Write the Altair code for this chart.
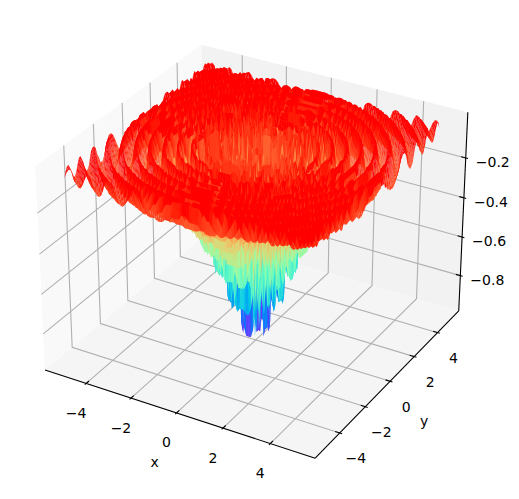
import math
import altair as alt
import pandas as pd

# --- values ----------------------------------------------------------------
grid_values = [-5.12,-5.02,-4.92,-4.82,-4.72,-4.62,-4.52,-4.42,-4.32,-4.22,-4.12,-4.02,-3.92,-3.82,-3.72,-3.62,-3.52,-3.42,-3.32,-3.22,-3.12,-3.02,-2.92,-2.82,-2.72,-2.62,-2.52,-2.42,-2.32,-2.22,-2.12,-2.02,-1.92,-1.82,-1.72,-1.62,-1.52,-1.42,-1.32,-1.22,-1.12,-1.02,-.92,-.82,-.72,-.62,-.52,-.42,-.32,-.22,-.12,-.02,.08,.18,.28,.38,.48,.58,.68,.78,.88,.98,1.08,1.18,1.28,1.38,1.48,1.58,1.68,1.78,1.88,1.98,2.08,2.18,2.28,2.38,2.48,2.58,2.68,2.78,2.88,2.98,3.08,3.18,3.28,3.38,3.48,3.58,3.68,3.78,3.88,3.98,4.08,4.18,4.28,4.38,4.48,4.58,4.68,4.78,4.88,4.98,5.08]
profile_step = 0.032725   # radial spacing of the table below
radial_profile = [
-1.0,-.962,-.853,-.69,-.498,-.307,-.145,-.038,0,-.037,-.143,-.299,-.481,-.661,-.811,-.907,
-.936,-.893,-.785,-.63,-.452,-.276,-.13,-.033,0,-.033,-.124,-.258,-.413,-.564,-.688,-.765,
-.785,-.745,-.652,-.521,-.371,-.226,-.106,-.027,0,-.026,-.099,-.206,-.329,-.448,-.545,-.604,
-.618,-.586,-.511,-.408,-.29,-.176,-.082,-.021,0,-.02,-.077,-.16,-.255,-.346,-.421,-.466,
-.477,-.451,-.394,-.314,-.223,-.136,-.063,-.016,0,-.016,-.059,-.123,-.196,-.267,-.325,-.36,
-.369,-.349,-.305,-.243,-.173,-.105,-.049,-.013,0,-.012,-.046,-.096,-.153,-.209,-.254,-.282,
-.288,-.273,-.239,-.191,-.136,-.083,-.039,-.01,0,-.01,-.037,-.076,-.121,-.165,-.201,-.224,
-.229,-.218,-.191,-.152,-.109,-.066,-.031,-.008,0,-.008,-.029,-.061,-.098,-.133,-.163,-.181,
-.186,-.176,-.155,-.124,-.088,-.054,-.025,-.006,0,-.006,-.024,-.05,-.08,-.109,-.133,-.149,
-.153,-.145,-.127,-.102,-.073,-.044,-.021,-.005,0,-.005,-.02,-.042,-.067,-.091,-.111,-.124,
-.127,-.121,-.106,-.085,-.061,-.037,-.017,-.004,0,-.004,-.017,-.035,-.056,-.077,-.094,-.105,
-.108,-.102,-.09,-.072,-.052,-.032,-.015,-.004,0,-.004,-.014,-.03,-.048,-.065,-.08,-.089,
-.092,-.088,-.077,-.062,-.044,-.027,-.013,-.003,0,-.003,-.012,-.026,-.041,-.056,-.069,-.077,
-.079,-.076,-.067,-.054,-.038,-.023,-.011,-.003,0,-.003,-.011,-.022,-.036,-.049,-.06,-.067,
-.069]
x_ticks = [-4, -2, 0, 2, 4]
y_ticks = [-4, -2, 0, 2, 4]
z_ticks = [-0.8, -0.6, -0.4, -0.2]
z_tick_labels = ["\u22120.8", "\u22120.6", "\u22120.4", "\u22120.2"]
xy_tick_labels = ["\u22124", "\u22122", "0", "2", "4"]
rainbow_stops = [0, .1, .2, .3, .4, .5, .6, .7, .8, .9, 1]
rainbow_colors = ["#8000ff","#4d4ffc","#1a96f2","#1acee3","#4df2ce","#80ffb4","#b3f296","#e6ce74","#ff964f","#ff4f28","#ff0000"]
pane_colors = {"x": "#f9f9f9", "y": "#f2f2f2", "z": "#f5f5f5"}
COLOR_LOW, COLOR_HIGH = -0.84, -0.04

XLIM = (-5.632, 5.632)
YLIM = (-5.632, 5.632)
ZLIM = (-0.966, 0.004)

# --- 3D camera (elevation 30, azimuth -60) ---------------------------------
BOX = (1.1428, 1.1428, 0.8571)
U = (0.8660, 0.5, 0.0)
V = (-0.25, 0.4330, 0.8660)
W = (0.4330, -0.75, 0.5)
DIST = 10.0
SCALE, CX, CY = 2600.0, 255.7 - 8, 241.6 - 8


def project(x, y, z):
    rx = ((x - XLIM[0]) / (XLIM[1] - XLIM[0]) - 0.5) * BOX[0]
    ry = ((y - YLIM[0]) / (YLIM[1] - YLIM[0]) - 0.5) * BOX[1]
    rz = ((z - ZLIM[0]) / (ZLIM[1] - ZLIM[0]) - 0.5) * BOX[2]
    xv = U[0] * rx + U[1] * ry
    yv = V[0] * rx + V[1] * ry + V[2] * rz
    depth = W[0] * rx + W[1] * ry + W[2] * rz
    d = DIST - depth
    return round(CX + SCALE * xv / d, 2), round(CY - SCALE * yv / d, 2), d


def pt(x, y, z):
    p = project(x, y, z)
    return [p[0], p[1]]


def line(points):
    return {"type": "Feature", "geometry": {"type": "LineString", "coordinates": [pt(*q) for q in points]}, "properties": {}}


def poly(points, **extra):
    c = [pt(*q) for q in points]
    f = {"type": "Feature", "geometry": {"type": "Polygon", "coordinates": [c + [c[0]]]}, "properties": {}}
    f.update(extra)
    return f


dx = (XLIM[1] - XLIM[0]) / 48
dz = (ZLIM[1] - ZLIM[0]) / 48
x0, x1 = XLIM[0] - dx, XLIM[1] + dx
y0, y1 = YLIM[0] - dx, YLIM[1] + dx
z0, z1 = ZLIM[0] - dz, ZLIM[1] + dz
tick_d = (x1 - x0) / 12

# --- surface ---------------------------------------------------------------
n = len(grid_values)
Z = []
for yv in grid_values:
    row = []
    for xv in grid_values:
        i = int(round(math.hypot(xv, yv) / profile_step))
        row.append(radial_profile[min(i, len(radial_profile) - 1)])
    Z.append(row)

quads = []
for j in range(n - 1):
    for i in range(n - 1):
        corners = [
            (grid_values[i], grid_values[j], Z[j][i]),
            (grid_values[i + 1], grid_values[j], Z[j][i + 1]),
            (grid_values[i + 1], grid_values[j + 1], Z[j + 1][i + 1]),
            (grid_values[i], grid_values[j + 1], Z[j + 1][i]),
        ]
        mean_z = sum(c[2] for c in corners) / 4
        depth = sum(project(*c)[2] for c in corners) / 4
        quads.append((depth, round(mean_z, 4), corners))
quads.sort(key=lambda q: -q[0])
surface = [poly(q[2], z=q[1]) for q in quads]
domain = [COLOR_LOW + (COLOR_HIGH - COLOR_LOW) * t for t in rainbow_stops]

# --- panes, grid, axes -----------------------------------------------------
panes = [
    poly([(x0, y0, z0), (x0, y1, z0), (x0, y1, z1), (x0, y0, z1)], pane=pane_colors["x"]),
    poly([(x0, y1, z0), (x1, y1, z0), (x1, y1, z1), (x0, y1, z1)], pane=pane_colors["y"]),
    poly([(x0, y0, z0), (x1, y0, z0), (x1, y1, z0), (x0, y1, z0)], pane=pane_colors["z"]),
]
grid = []
for t in x_ticks:
    grid.append(line([(t, y0, z0), (t, y1, z0), (t, y1, z1)]))
for t in y_ticks:
    grid.append(line([(x1, t, z0), (x0, t, z0), (x0, t, z1)]))
for t in z_ticks:
    grid.append(line([(x1, y1, t), (x0, y1, t), (x0, y0, t)]))

axes = [
    line([(x0, y0, z0), (x1, y0, z0)]),
    line([(x1, y0, z0), (x1, y1, z0)]),
    line([(x1, y1, z0), (x1, y1, z1)]),
]
for t in x_ticks:
    axes.append(line([(t, y0 - 0.1 * tick_d, z0), (t, y0 + 0.2 * tick_d, z0)]))
for t in y_ticks:
    axes.append(line([(x1 + 0.1 * tick_d, t, z0), (x1 - 0.2 * tick_d, t, z0)]))
for t in z_ticks:
    axes.append(line([(x1 + 0.1 * tick_d, y1, t), (x1 - 0.2 * tick_d, y1, t)]))

# --- text ------------------------------------------------------------------
rows = []
for t, s in zip(x_ticks, xy_tick_labels):
    p = project(t, y0, z0)
    rows.append({"px": p[0] - 10, "py": p[1] + 30.5, "label": s})
for t, s in zip(y_ticks, xy_tick_labels):
    p = project(x1, t, z0)
    rows.append({"px": p[0] + 16, "py": p[1] + 26.5, "label": s})
for t, s in zip(z_ticks, z_tick_labels):
    p = project(x1, y1, t)
    rows.append({"px": p[0] + 27, "py": p[1] + 5, "label": s})
p = project(0, y0, z0)
rows.append({"px": p[0] - 22, "py": p[1] + 50, "label": "x"})
p = project(x1, 0, z0)
rows.append({"px": p[0] + 34, "py": p[1] + 41, "label": "y"})
texts = pd.DataFrame(rows)

# --- chart -----------------------------------------------------------------
proj = dict(type="identity", scale=1, translate=[0, 0])

pane_layer = alt.Chart(alt.Data(values=panes)).mark_geoshape(strokeWidth=0).encode(
    fill=alt.Fill("pane:N", scale=None)).project(**proj)
grid_layer = alt.Chart(alt.Data(values=grid)).mark_geoshape(
    filled=False, stroke="#b0b0b0", strokeWidth=1.1).project(**proj)
axis_layer = alt.Chart(alt.Data(values=axes)).mark_geoshape(
    filled=False, stroke="#000000", strokeWidth=1.1).project(**proj)
color_scale = alt.Scale(domain=domain, range=rainbow_colors, clamp=True)
surface_layer = alt.Chart(alt.Data(values=surface)).mark_geoshape(strokeWidth=0).encode(
    fill=alt.Fill("z:Q", scale=color_scale, legend=None),
).project(**proj)
text_layer = alt.Chart(texts).mark_text(font="DejaVu Sans", fontSize=14, color="#000000").encode(
    x=alt.X("px:Q", scale=None, axis=None),
    y=alt.Y("py:Q", scale=None, axis=None),
    text="label:N",
)

chart = alt.layer(pane_layer, grid_layer, axis_layer, surface_layer, text_layer).resolve_scale(
    fill="independent"
).properties(
    width=503, height=483, padding=0, autosize=alt.AutoSizeParams(type="none")
).configure_view(stroke=None)

chart.save("out.html", embed_options={"renderer": "svg", "actions": False})
